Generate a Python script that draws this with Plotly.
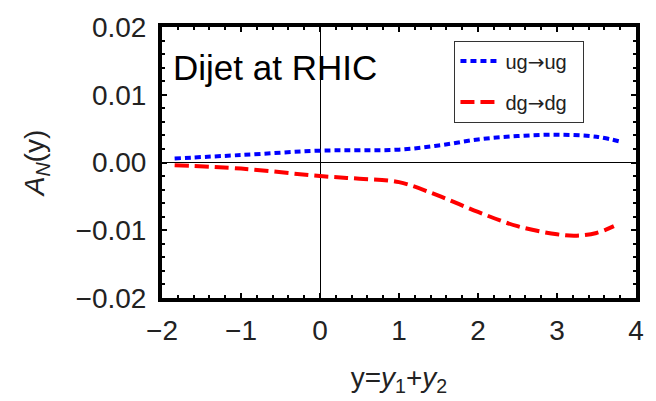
import plotly.graph_objects as go

# Data
x_ug = [-1.84, -1.0, 0.0, 0.5, 1.0, 1.5, 2.0, 2.5, 3.0, 3.5, 3.83]
a_ug = [0.0006, 0.0011, 0.00175, 0.0018, 0.0019, 0.0025, 0.0034, 0.0039, 0.0041, 0.0038, 0.0030]

x_dg = [-1.84, -1.0, 0.0, 0.5, 1.0, 1.5, 2.0, 2.5, 3.0, 3.25, 3.5, 3.72]
a_dg = [-0.0004, -0.0009, -0.0020, -0.0024, -0.0029, -0.0049, -0.0073, -0.0094, -0.0106, -0.0108, -0.0104, -0.0094]

x_ticks = [-2, -1, 0, 1, 2, 3, 4]
y_ticks = [-0.02, -0.01, 0.0, 0.01, 0.02]

FONT = "Liberation Sans, Arial, sans-serif"
ARROW = '<span style="font-family:DejaVu Sans">\u2192</span>'
PAD = "\u00a0\u00a0"

fig = go.Figure()
fig.add_trace(go.Scatter(
    x=x_ug, y=a_ug, mode="lines", name="ug" + ARROW + "ug" + PAD, legendgroup="a",
    line=dict(color="#0000FF", width=4, dash="6px,4px", shape="spline"),
))
fig.add_trace(go.Scatter(
    x=x_dg, y=a_dg, mode="lines", name="dg" + ARROW + "dg" + PAD, legendgroup="b",
    line=dict(color="#FF0000", width=4, dash="14px,6px", shape="spline"),
))

fig.add_annotation(
    text="Dijet at RHIC", xref="paper", yref="paper", x=0.02, y=0.93,
    xanchor="left", yanchor="top", showarrow=False,
    font=dict(family=FONT, size=35, color="black"),
)

axis_common = dict(
    showgrid=False, showline=True, linecolor="black", linewidth=4,
    mirror="allticks", ticks="inside", ticklen=5, tickwidth=2, tickcolor="black",
    zeroline=True, zerolinecolor="black", zerolinewidth=1,
    tickfont=dict(family=FONT, size=28, color="#222"),
)

fig.update_xaxes(
    range=[-2, 4], tickvals=x_ticks, ticklabelstandoff=4,
    minor=dict(dtick=0.2, ticks="inside", ticklen=3, tickwidth=2, tickcolor="black"),
    title=dict(text="y=<i>y</i><sub>1</sub>+<i>y</i><sub>2</sub>",
               font=dict(family=FONT, size=28, color="#222"), standoff=24),
    **axis_common,
)
fig.update_yaxes(
    range=[-0.02, 0.02], tickvals=y_ticks, tickformat=".2f", ticklabelstandoff=6,
    minor=dict(dtick=0.002, ticks="inside", ticklen=3, tickwidth=2, tickcolor="black"),
    title=dict(text="<i>A</i><sub><i>N</i></sub>(y)",
               font=dict(family=FONT, size=28, color="#222"), standoff=24),
    **axis_common,
)

fig.update_layout(
    width=656, height=401,
    margin=dict(l=162, r=19, t=18, b=99),
    paper_bgcolor="white", plot_bgcolor="white",
    showlegend=True,
    legend=dict(
        x=0.617, y=0.95, xanchor="left", yanchor="top",
        bordercolor="#333", borderwidth=1, bgcolor="white",
        font=dict(family=FONT, size=20, color="#222"),
        tracegroupgap=12, itemwidth=40,
    ),
)

fig.write_html("out.html")
